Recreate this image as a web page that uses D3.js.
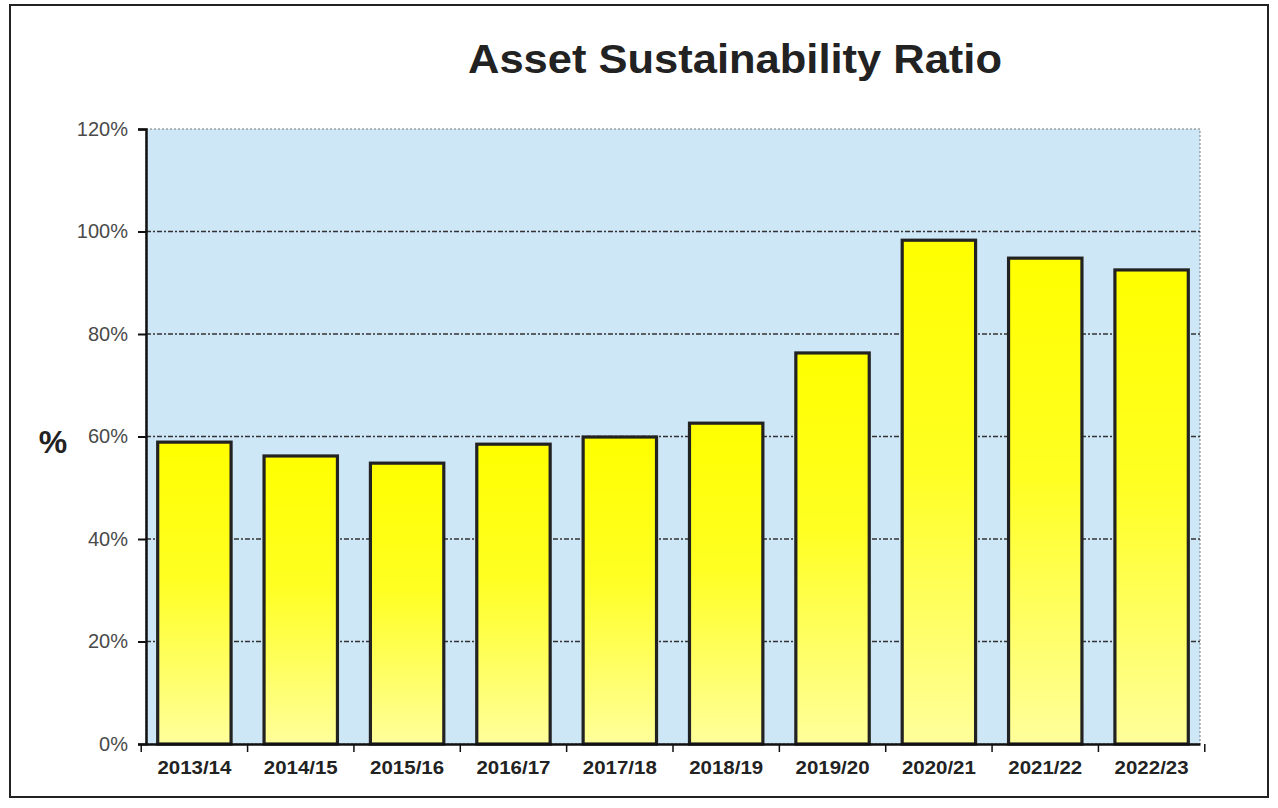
<!DOCTYPE html>
<html><head><meta charset="utf-8">
<script src="https://cdn.jsdelivr.net/npm/d3@7"></script>
<style>body{margin:0;background:#fff}svg{display:block}</style>
</head><body>
<svg id="c" width="1278" height="808"></svg>
<script>
const categories = ["2013/14","2014/15","2015/16","2016/17","2017/18","2018/19","2019/20","2020/21","2021/22","2022/23"];
const values = [58.9,56.2,54.8,58.5,59.9,62.6,76.3,98.3,94.8,92.5];
const yTicks = [0,20,40,60,80,100,120];
const title = "Asset Sustainability Ratio";
const yLabel = "%";

const svg = d3.select("#c");
const m = {l:146, r:1200, t:129, b:744};
const FONT = "Liberation Sans, Arial, sans-serif";

// outer frame
svg.append("rect").attr("x",10).attr("y",5).attr("width",1258).attr("height",792)
  .attr("fill","none").attr("stroke","#222").attr("stroke-width",2);

const defs = svg.append("defs");
const g = defs.append("linearGradient").attr("id","bg").attr("x1",0).attr("y1",0).attr("x2",0).attr("y2",1);
g.append("stop").attr("offset","0%").attr("stop-color","#ffff00");
g.append("stop").attr("offset","45%").attr("stop-color","#ffff22");
g.append("stop").attr("offset","100%").attr("stop-color","#ffff9c");

const x = d3.scaleBand().domain(categories).range([m.l, m.r]).paddingInner(0.31).paddingOuter(0.11);
const y = d3.scaleLinear().domain([0,120]).range([m.b, m.t]);

// plot background
svg.append("rect").attr("x",m.l).attr("y",m.t).attr("width",m.r-m.l).attr("height",m.b-m.t)
  .attr("fill","#cee7f7").attr("stroke","#777").attr("stroke-width",1).attr("stroke-dasharray","2,2");

// gridlines
svg.append("g").selectAll("line").data(yTicks.filter(d=>d>0 && d<120)).join("line")
  .attr("x1",m.l).attr("x2",m.r).attr("y1",d=>y(d)).attr("y2",d=>y(d))
  .attr("stroke","#333").attr("stroke-width",1.3).attr("stroke-dasharray","5,2,2,2");

// bars
svg.append("g").selectAll("rect").data(values).join("rect")
  .attr("x",(d,i)=>x(categories[i])).attr("width",x.bandwidth())
  .attr("y",d=>y(d)).attr("height",d=>y(0)-y(d))
  .attr("fill","url(#bg)").attr("stroke","#222").attr("stroke-width",3.2);

// y axis
const ya = svg.append("g").attr("transform",`translate(${m.l},0)`)
  .call(d3.axisLeft(y).tickValues(yTicks).tickFormat(d=>d+"%").tickSize(8).tickPadding(10));
ya.select(".domain").attr("stroke","#111").attr("stroke-width",2.5);
ya.selectAll(".tick line").attr("stroke","#111").attr("stroke-width",2);
ya.selectAll(".tick text").attr("font-family",FONT).attr("font-size",20).attr("fill","#4a4a4a");

// x axis
const xa = svg.append("g").attr("transform",`translate(0,${m.b})`)
  .call(d3.axisBottom(x).tickSize(0).tickPadding(17));
xa.select(".domain").attr("stroke","#111").attr("stroke-width",2.5);
xa.selectAll(".tick text").attr("font-family",FONT).attr("font-size",18)
  .attr("font-weight","bold").attr("fill","#222").attr("textLength",74).attr("lengthAdjust","spacingAndGlyphs");
// category separator ticks (midway between bars)
const gap = (x.step()-x.bandwidth())/2;
const seps = categories.map(c=>x(c)-gap).concat([x(categories[categories.length-1])+x.bandwidth()+gap]);
svg.append("g").selectAll("line").data(seps).join("line")
  .attr("x1",d=>d).attr("x2",d=>d)
  .attr("y1",m.b).attr("y2",m.b+8).attr("stroke","#111").attr("stroke-width",1.5);

// title
svg.append("text").attr("x",735).attr("y",73).attr("text-anchor","middle")
  .attr("font-family",FONT).attr("font-weight","bold")
  .attr("font-size",40).attr("fill","#222").attr("textLength",534).attr("lengthAdjust","spacingAndGlyphs").text(title);

// y label
svg.append("text").attr("x",53).attr("y",453).attr("text-anchor","middle")
  .attr("font-family",FONT).attr("font-weight","bold")
  .attr("font-size",32).attr("fill","#222").text(yLabel);
</script>
</body></html>
